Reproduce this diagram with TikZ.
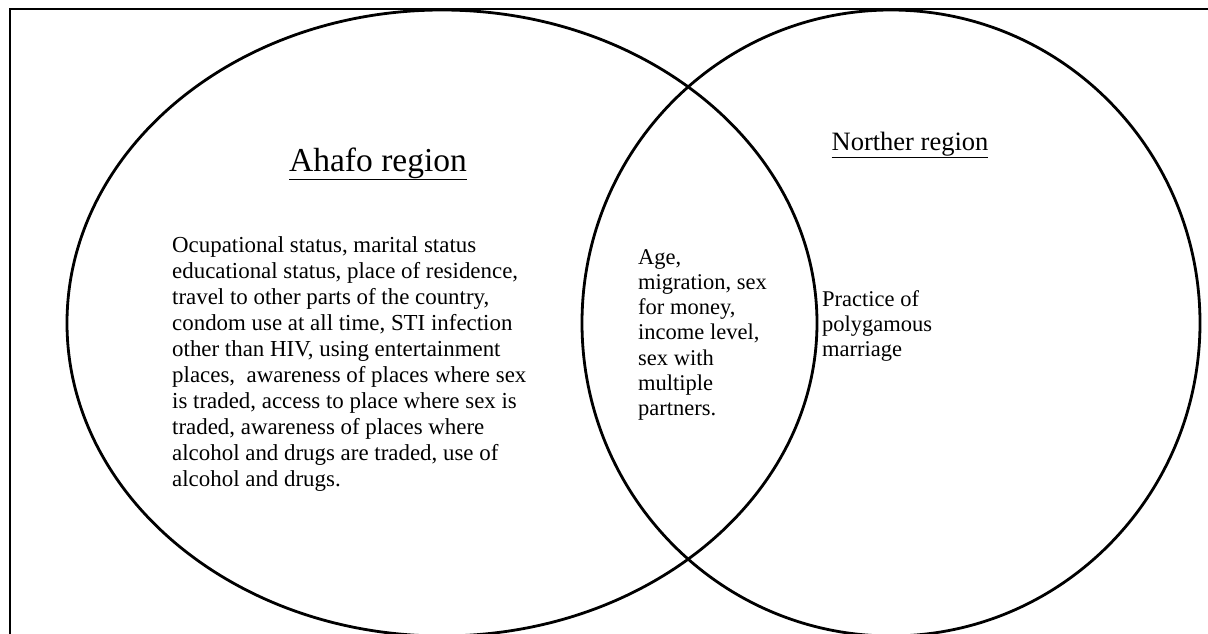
\documentclass[tikz,border=0pt]{standalone}
\usepackage{fontspec}
\setmainfont{Liberation Serif}
\newcommand{\regionname}[2]{{\fontsize{#1}{#1}\selectfont\underline{#2}}}

\begin{document}
\begin{tikzpicture}[x=1pt,y=-1pt,
    every node/.style={inner sep=0pt,align=left,anchor=north west},
    venn/.style={line width=2.8pt},
    body/.style={font=\fontsize{22.9}{26}\selectfont},
    tight/.style={font=\fontsize{22.5}{25.3}\selectfont}]
  \useasboundingbox (0,0) rectangle (1208,634);
  \draw[line width=1.8pt] (10,9) rectangle (1240,670);
  % the two regions
  \draw[venn] (442,323) ellipse [x radius=375,y radius=313];
  \draw[venn] (891,323) ellipse [x radius=309,y radius=313];
  \node[anchor=base] (ahafo) at (378,171) {\regionname{33.5}{Ahafo region}};
  \node[anchor=base] (northern) at (910,150) {\regionname{26.5}{Norther region}};
  \node[body] (ahafolist) at (172,236) {%
    Ocupational status, marital status\\
    educational status, place of residence,\\
    travel to other parts of the country,\\
    condom use at all time, STI infection\\
    other than HIV, using entertainment\\
    places,\ \ awareness of places where sex\\
    is traded, access to place where sex is\\
    traded, awareness of places where\\
    alcohol and drugs are traded, use of\\
    alcohol and drugs.};
  \node[tight] (shared) at (638,249) {%
    Age,\\
    migration, sex\\
    for money,\\
    income level,\\
    sex with\\
    multiple\\
    partners.};
  \node[tight] (northlist) at (822,290) {%
    Practice of\\
    polygamous\\
    marriage};
\end{tikzpicture}
\end{document}
